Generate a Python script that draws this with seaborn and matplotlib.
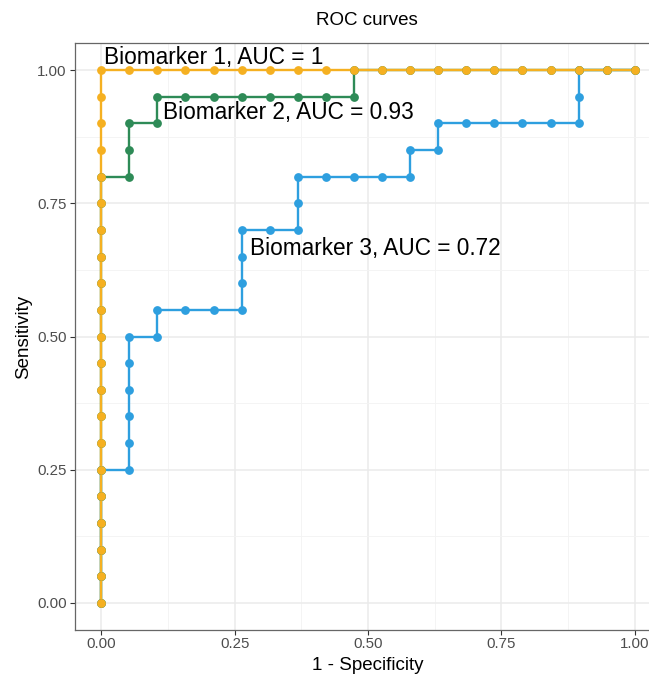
import matplotlib
matplotlib.use("Agg")
import matplotlib.pyplot as plt
from matplotlib.ticker import MultipleLocator
import seaborn as sns
import pandas as pd

# ---- data ----
fpr_b1 = [0, 0, 0, 0, 0, 0, 0, 0, 0, 0, 0, 0, 0, 0, 0, 0, 0, 0, 0, 0, 0,
          0.0526, 0.1053, 0.1579, 0.2105, 0.2632, 0.3158, 0.3684, 0.4211, 0.4737,
          0.5263, 0.5789, 0.6316, 0.6842, 0.7368, 0.7895, 0.8421, 0.8947, 0.9474, 1.0]
tpr_b1 = [0, 0.05, 0.10, 0.15, 0.20, 0.25, 0.30, 0.35, 0.40, 0.45, 0.50,
          0.55, 0.60, 0.65, 0.70, 0.75, 0.80, 0.85, 0.90, 0.95, 1.0,
          1, 1, 1, 1, 1, 1, 1, 1, 1, 1, 1, 1, 1, 1, 1, 1, 1, 1, 1]

fpr_b2 = [0, 0, 0, 0, 0, 0, 0, 0, 0, 0, 0, 0, 0, 0, 0, 0, 0,
          0.0526, 0.0526, 0.0526, 0.1053, 0.1053, 0.1579, 0.2105, 0.2632,
          0.3158, 0.3684, 0.4211, 0.4737, 0.4737,
          0.5263, 0.5789, 0.6316, 0.6842, 0.7368, 0.7895, 0.8421, 0.8947, 0.9474, 1.0]
tpr_b2 = [0, 0.05, 0.10, 0.15, 0.20, 0.25, 0.30, 0.35, 0.40, 0.45, 0.50,
          0.55, 0.60, 0.65, 0.70, 0.75, 0.80,
          0.80, 0.85, 0.90, 0.90, 0.95, 0.95, 0.95, 0.95,
          0.95, 0.95, 0.95, 0.95, 1.0,
          1, 1, 1, 1, 1, 1, 1, 1, 1, 1]

fpr_b3 = [0, 0, 0, 0, 0, 0,
          0.0526, 0.0526, 0.0526, 0.0526, 0.0526, 0.0526,
          0.1053, 0.1053, 0.1579, 0.2105, 0.2632, 0.2632, 0.2632, 0.2632,
          0.3158, 0.3684, 0.3684, 0.3684, 0.4211, 0.4737, 0.5263, 0.5789,
          0.5789, 0.6316, 0.6316, 0.6842, 0.7368, 0.7895, 0.8421, 0.8947,
          0.8947, 0.8947, 0.9474, 1.0]
tpr_b3 = [0, 0.05, 0.10, 0.15, 0.20, 0.25,
          0.25, 0.30, 0.35, 0.40, 0.45, 0.50,
          0.50, 0.55, 0.55, 0.55, 0.55, 0.60, 0.65, 0.70,
          0.70, 0.70, 0.75, 0.80, 0.80, 0.80, 0.80, 0.80,
          0.85, 0.85, 0.90, 0.90, 0.90, 0.90, 0.90, 0.90,
          0.95, 1.0, 1.0, 1.0]

series_names = ["Biomarker 1", "Biomarker 2", "Biomarker 3"]
auc_labels = ["Biomarker 1, AUC = 1", "Biomarker 2, AUC = 0.93", "Biomarker 3, AUC = 0.72"]
label_x = [0.006, 0.116, 0.279]
label_y = [1.024, 0.921, 0.666]
colors = {"Biomarker 1": "#F5B021", "Biomarker 2": "#2E8B57", "Biomarker 3": "#2E9FDF"}

tick_vals = [0.00, 0.25, 0.50, 0.75, 1.00]
tick_labels = ["0.00", "0.25", "0.50", "0.75", "1.00"]

# ---- table ----
frames = []
for name, f, t in [("Biomarker 1", fpr_b1, tpr_b1),
                   ("Biomarker 2", fpr_b2, tpr_b2),
                   ("Biomarker 3", fpr_b3, tpr_b3)]:
    frames.append(pd.DataFrame({"fpr": f, "tpr": t, "marker": name}))
df = pd.concat(frames, ignore_index=True)

sns.set_theme(style="white")
plt.rcParams["font.family"] = ["Liberation Sans", "DejaVu Sans"]

W, H = 649, 675
fig = plt.figure(figsize=(W / 100, H / 100), dpi=100)
left, right, top, bottom = 74.5, 661.5, 43.4, 629.6
ax = fig.add_axes([left / W, (H - bottom) / H, (right - left) / W, (bottom - top) / H])

draw_order = ["Biomarker 3", "Biomarker 2", "Biomarker 1"]
# lines first (like ggplot geom_path), then points
for name in draw_order:
    sub = df[df["marker"] == name]
    sns.lineplot(data=sub, x="fpr", y="tpr", sort=False, estimator=None,
                 color=colors[name], linewidth=1.7, ax=ax, legend=False, zorder=3)
for name in draw_order:
    sub = df[df["marker"] == name]
    sns.scatterplot(data=sub, x="fpr", y="tpr", color=colors[name], s=40,
                    linewidth=0, ax=ax, legend=False, zorder=4)

for txt, x, y in zip(auc_labels, label_x, label_y):
    ax.text(x, y, txt, ha="left", va="center", fontsize=16.3, color="black", zorder=6)

ax.set_xlim(-0.05, 1.05)
ax.set_ylim(-0.05, 1.05)
ax.set_xticks(tick_vals)
ax.set_xticklabels(tick_labels)
ax.set_yticks(tick_vals)
ax.set_yticklabels(tick_labels)
ax.xaxis.set_minor_locator(MultipleLocator(0.125))
ax.yaxis.set_minor_locator(MultipleLocator(0.125))
ax.grid(True, which="major", color="#EBEBEB", linewidth=1.1, zorder=0)
ax.grid(True, which="minor", color="#F3F3F3", linewidth=0.6, zorder=0)
ax.set_axisbelow(True)
for sp in ax.spines.values():
    sp.set_color("#666666")
    sp.set_linewidth(0.9)
ax.tick_params(axis="both", which="major", length=3.5, width=0.8, color="#333333",
               labelcolor="#4D4D4D", labelsize=10.8, pad=2, bottom=True, left=True)
ax.tick_params(axis="both", which="minor", length=0)

ax.set_xlabel("1 - Specificity", fontsize=13.5, color="black", labelpad=4)
ax.set_ylabel("Sensitivity", fontsize=13.5, color="black", labelpad=4)
ax.set_title("ROC curves", fontsize=13.5, color="black", pad=13, x=(W / 2 + 42 - left) / (right - left))

fig.savefig("out.png", dpi=100)
